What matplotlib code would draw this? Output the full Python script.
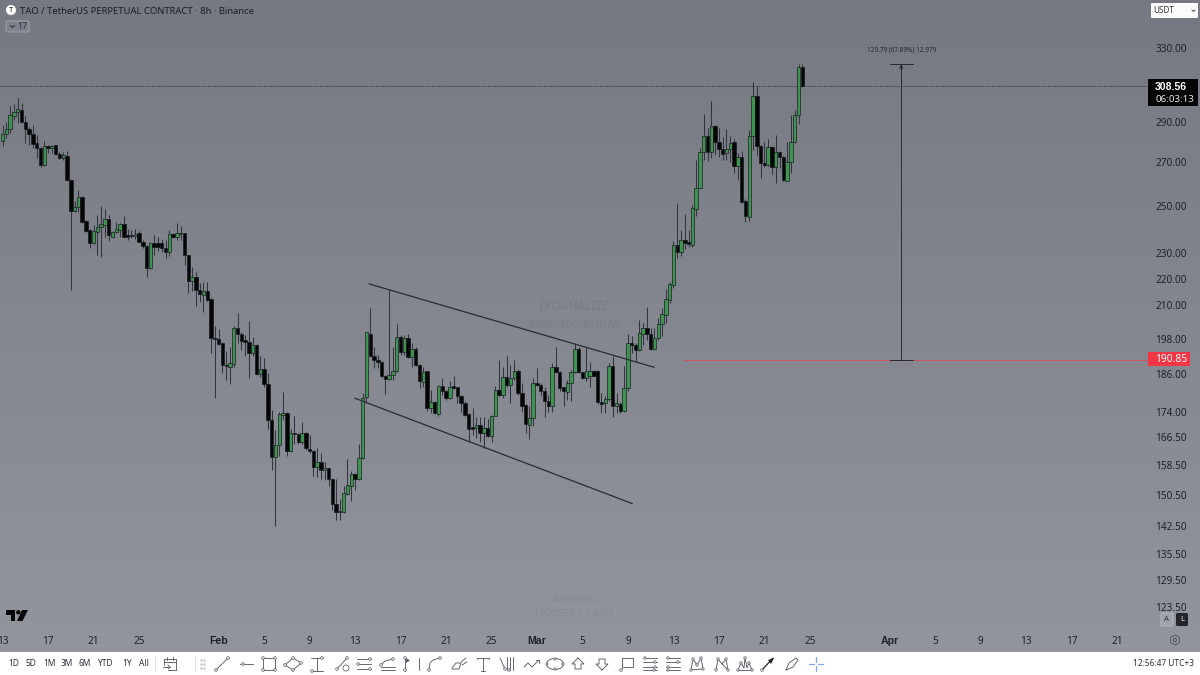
import numpy as np
import matplotlib
matplotlib.use("Agg")
import matplotlib.pyplot as plt
from matplotlib.patches import Rectangle, FancyBboxPatch, Circle, Ellipse, Polygon

plt.rcParams['font.family'] = ['Noto Sans', 'DejaVu Sans']

# ---- DATA (8h candles, first candle = Jan 13) ----
opens = [280.4,283.6,286,293,295,296,290,286,283.6,279.1,277,268.7,277.7,277,278.2,274,271.9,273,261.7,247.8,
 249.5,253.9,243.4,239.7,234.2,239,240.8,241.8,244.4,236.9,238.9,239.7,242,237.6,237.5,237.2,238.6,234.7,233,224.2,
 234.2,234.2,234.2,232.4,230.5,238,236.6,238,238.3,229.2,219.2,220.8,215.7,213.8,215.3,212.2,198.3,197.9,196.5,189.1,
 188.5,189.3,201.7,199.5,197.6,197,193.2,195.8,186.1,187.6,182.9,171.7,160.7,164.2,173.1,173.8,162.4,167.8,167.6,165,
 167.8,163.2,162.6,158,159.3,157.3,157.7,154.6,148.2,146.1,146,150.7,152.9,156,154.6,160.5,178.7,199.6,192,190.7,
 190.2,185.5,184.5,185.8,186.9,198.7,193.5,198.1,191.6,194.3,189,183.4,186.9,175.4,177.1,173.5,182.3,180.5,178.4,182.1,
 181.8,178.9,176.8,173.5,169.4,169.1,170.1,167.7,169.2,167,172.9,180.9,179.4,185,182.4,184.7,186.9,179.9,176.3,170.2,
 172.1,183.1,182.6,180.7,177.3,175.8,188.5,186.6,181.8,180.3,183.1,186.6,194.3,186.6,184.9,185.5,187.2,187.2,177,176.8,
 178.1,188.7,175.8,176.6,174.3,181.5,196.5,195.7,194,199.8,201.6,199.8,194.5,198.1,203.1,206.5,212,217.4,233.5,230.5,
 235.5,234.5,233.5,248.8,258.1,275,282.6,275,287.7,279.9,276.3,274.2,276.1,279.6,268.2,272.6,252.2,245.4,282.6,303.3,
 278,269.4,268.7,277.4,267.9,275,272.3,261.4,270.2,279.6,293.4,318.9]
highs = [288.3,290,298,299,302,299.4,292.8,287.3,288.3,283.2,277.5,280,278.3,278.3,278.3,275,275.1,275.4,262,252,
 257,254.2,244,240,241.8,246.1,249.8,248.6,246.1,239.4,243.2,242.5,245.7,240,239.7,240,239.4,235.6,233.5,234.5,
 237.6,236.9,235.8,235.6,239.7,238.3,242.5,241.3,238.6,229.5,224.5,222.8,218.3,218.6,218.7,212.5,202.5,201.3,196.7,193.6,
 195,202.5,207,200.2,199.3,204.3,198.5,196.2,192.1,191.3,186.5,174.6,168.5,174,180.3,174,169,172.7,167.8,170.9,
 168,167.2,162.9,163.4,161.9,159.3,157.8,155,154.6,149.4,152.7,160.3,156.9,156.4,164.6,180,200.5,208.9,195.2,192.4,
 190.4,185.8,215.7,195.2,203.2,199.2,199.2,199.8,196.4,195.2,189.3,188.3,187.1,181,177.6,182.5,184.9,180.8,183.7,185.3,
 182,179.4,177.3,173.7,175.2,172.5,172.5,172.5,171.9,173.2,182.3,190.7,188.5,192,189,190.7,187.7,183,176.5,175.8,
 184.7,188,183.1,182,179.4,189.6,195.2,186.9,182,184.2,187.4,196.4,195.2,186.8,194.9,190.2,187.4,187.4,179.9,178.9,
 189.6,192,179.9,177,188.7,199.8,198.8,196.5,204.5,203.5,209.5,201.7,201.7,205.3,208.9,216,218.9,234.9,251.2,239.7,
 246.5,239.7,250.4,271,276.6,293.7,286.5,300.9,288.2,286.5,282.3,286,282.6,281.3,274.2,275.5,253.3,285.7,311,308.7,
 278.3,279.9,281.1,277.8,283.2,275.5,272.9,279.9,293.4,295.7,320.6,320.6]
lows = [277.8,281.6,284,290.8,289.4,289.4,279.5,278.3,276.7,271.9,267.6,268.2,274.6,274.3,273.5,271.4,270.8,261.4,215.5,247.5,
 247.5,242.8,239,232.1,233.9,229.4,228.5,236.9,235,236.2,238.3,236.9,236.2,235.5,236.2,235.8,234.5,232.1,220.6,223.8,
 229.4,230.8,230.4,228.1,229,236.2,235.6,235.3,225.4,214.5,215.3,209.7,211,207.4,211.7,193,178.4,195.7,186.3,184.2,
 182.8,188.5,196.5,194,191.9,184.7,191.9,185.8,185.2,182,169,157.1,142.4,161,171.7,161,162.2,164.6,164.6,164.6,
 162.7,162,155.5,155.3,154.6,154.4,152.7,146.5,144,143.9,145.8,150.5,148.8,151.8,154.4,160.2,176.8,191.6,188,188,
 184.7,179.7,184.2,184.2,186.6,192.4,192.4,191.3,188.3,188.7,181.5,182,174.5,173.7,173.4,172.9,179.4,177.9,178.1,181.3,
 176.8,174.2,172.7,165.1,167.2,166.2,165,163.5,166.7,165.2,172.7,178.9,178.4,182,176.8,184.2,179.4,174.2,167.7,165.9,
 169.7,182.3,178.9,172.5,174.2,174.2,186.4,180.5,175.9,177.9,177.6,186.4,186.4,184.5,183.7,182,185.3,176.6,173.9,173.9,
 177.6,172.5,173.7,173.9,174.1,180.7,193.1,190.3,193.6,195.9,197.6,194.2,194.2,197.6,198.8,203.5,210.8,216.4,228,228.8,
 231.7,232.8,232.8,245.8,257.8,271,270.7,271.8,273.4,272.3,271,271,270.2,264.8,261.7,251.5,243.1,243.6,275.8,273.4,
 262.4,267.9,268.2,264.5,260.1,267.1,261.4,261.4,264.8,279.1,288.7,307.9]
closes = [283.7,286.2,293.4,295,296.3,290,286,283.6,279,276.9,268.7,277.8,277,278,274,271.9,273.2,261.7,247.8,249.5,
 253.9,243.2,239.4,234.2,239.4,240.8,242,244.4,237.4,238.9,240.1,242,236.6,236.6,237.2,238,234.7,233,224.2,234.2,
 232.8,232.8,232.1,230.4,238,236.9,238.3,238.6,229.2,219.3,220.8,215.7,214,215.2,212,198.2,197.8,196.2,189.1,188.7,
 189.7,201.7,199.5,197.2,197,193.2,195.7,186.1,187.6,182.8,171.7,160.7,164.2,173.3,173.8,162.6,167.8,167.4,165,167.8,
 163.4,162.4,158,159.3,157.3,157.7,154.6,148.2,146.1,146.3,150.9,153.1,156.1,154.6,160.5,178.4,200.2,192,190.7,190.2,
 185.3,184.6,185.8,187,198.7,193.5,198.1,191.6,194.3,189,183.7,186.7,175.4,177.1,173.7,182.3,180.5,178.4,182,181.7,
 178.9,176.8,173.2,169,169,170.1,167.7,169.2,166.9,172.9,180.9,179.4,185,182.6,184.7,187.1,179.9,175.9,170.4,172.1,
 183.1,182.6,180.7,177.3,175.8,188.5,186.6,181.7,180.5,183.1,186.6,194.3,186.6,184.9,187.2,187.2,185.5,177,176.6,178.1,
 188.7,175.8,176.8,174.3,181.7,196.4,195.7,194.2,199.9,201.6,199.8,194.5,198.2,203.1,206.8,212.3,217.9,233.5,230.5,235.5,
 234.4,233.7,249,258.1,275,282.6,275,287.7,279.9,276.3,273.8,276.1,279.4,268.2,272.6,251.9,245.7,282.6,303.3,277.8,
 269.4,268.5,277.1,267.9,275,272.3,261.7,270.2,279.6,293.4,318.9,308.56]

price_ticks = [330,290,270,250,230,220,210,198,186,174,166.5,158.5,150.5,142.5,135.5,129.5,123.5]
date_labels = ['13','17','21','25','Feb','5','9','13','17','21','25','Mar','5','9','13','17','21','25','Apr','5','9','13','17','21']
date_days = [0,4,8,12,19,23,27,31,35,39,43,47,51,55,59,63,67,71,78,82,86,90,94,98]
candles_per_day = 3
last_price = 308.56
level_price = 190.85
upper_channel = ([96.7, 171.9], [218.0, 188.3])
lower_channel = ([93.0, 166.1], [178.3, 148.2])
measure_idx = 237.1
measure_top = 320.64
toolbar_ranges = ['1D','5D','1M','3M','6M','YTD','1Y','All']

W, H = 1200, 675
PANE_R, PANE_B = 1147, 627
fig = plt.figure(figsize=(12, 6.75), dpi=100)

# background gradient
bg = fig.add_axes([0, 0, 1, 1], zorder=0)
bg.axis('off')
grad = np.linspace(0, 1, 256)[:, None, None]
top_c = np.array([118, 120, 130]) / 255
bot_c = np.array([148, 150, 159]) / 255
bg.imshow(top_c + (bot_c - top_c) * grad, aspect='auto', extent=[0, W, H, 0])

# main chart
ax = fig.add_axes([0, 1 - PANE_B / H, PANE_R / W, PANE_B / H], zorder=1)
ax.patch.set_alpha(0)
ax.set_yscale('log')
idx = np.arange(len(closes))
o, h, l, c = map(np.array, (opens, highs, lows, closes))
up = c >= o
ax.vlines(idx, l, h, color='#33353c', lw=0.75, zorder=2)
ax.bar(idx, np.abs(c - o), bottom=np.minimum(o, c), width=0.9,
       color=np.where(up, '#3f9350', '#050505'), edgecolor='#12161a', linewidth=0.45, zorder=3)
ax.set_xlim(-2.6 / 3.79, (PANE_R - 2.6) / 3.79)
ax.set_ylim(330 * np.exp(-(PANE_B - 48) / 569), 330 * np.exp(48 / 569))

ax.plot(*upper_channel, color='#2a2c33', lw=0.9, zorder=4)
ax.plot(*lower_channel, color='#2a2c33', lw=0.9, zorder=4)
ax.axhline(last_price, color='#2a2c33', lw=0.7, ls=(0, (1, 1.4)), zorder=1)
ax.plot([179.8, (PANE_R - 2.6) / 3.79], [level_price] * 2, color='#d2525d', lw=0.7, zorder=1)
ax.plot([measure_idx] * 2, [level_price, measure_top], color='#24262c', lw=0.65, zorder=4)
for p in (level_price, measure_top):
    ax.plot([measure_idx - 3, measure_idx + 3], [p, p], color='#24262c', lw=0.65, zorder=4)
ax.annotate('', xy=(measure_idx, measure_top), xytext=(measure_idx, measure_top * 0.988),
            arrowprops=dict(arrowstyle='->', color='#24262c', lw=0.6, shrinkA=0, shrinkB=0,
                            mutation_scale=6), zorder=4)
ax.text(measure_idx, measure_top * 1.026, '129.79 (67.89%) 12,979', ha='center', va='center',
        fontsize=4.6, color='#24262c')

ax.yaxis.tick_right()
ax.set_yticks(price_ticks)
ax.set_yticklabels([f'{p:.2f}' for p in price_ticks])
ax.minorticks_off()
ax.set_xticks([d * candles_per_day for d in date_days])
ax.set_xticklabels(date_labels)
ax.tick_params(axis='y', length=0, pad=6, labelsize=7.2, colors='#1e222d')
ax.tick_params(axis='x', length=0, pad=6.5, labelsize=7.2, colors='#1e222d')
for t in ax.get_xticklabels():
    if t.get_text() in ('Feb', 'Mar', 'Apr'):
        t.set_family('Liberation Sans')
        t.set_fontweight('bold')
        t.set_fontsize(7.6)
for s in ax.spines.values():
    s.set_visible(False)

# chrome overlay in pixels
ui = fig.add_axes([0, 0, 1, 1], zorder=2)
ui.set_xlim(0, W)
ui.set_ylim(H, 0)
ui.axis('off')
ui.patch.set_alpha(0)

INK = '#1c1e26'
ui.add_patch(Circle((11, 10), 5, fc='white', ec='none'))
ui.text(11, 10.3, 'T', fontsize=5.5, fontweight='bold', ha='center', va='center', color='#111')
ui.text(19.5, 11, 'TAO / TetherUS PERPETUAL CONTRACT · 8h · Binance', fontsize=6.8, va='center', color=INK)
ui.add_patch(FancyBboxPatch((6, 21), 23, 11, boxstyle='round,pad=0,rounding_size=1.5',
                            fc='#7f818c', ec='#9a9ca6', lw=0.8))
ui.plot([10.5, 12.5, 14.5], [25.5, 27.5, 25.5], color='#2a2c33', lw=0.7)
ui.text(22.5, 26.8, '17', fontsize=6.3, ha='center', va='center', color='#2a2c33')

# USDT
ui.add_patch(FancyBboxPatch((1151, 3), 47, 15, boxstyle='round,pad=0,rounding_size=1',
                            fc='#fbfbfc', ec='none'))
ui.text(1153.5, 10.8, 'USDT', fontsize=5.8, va='center', color='#30333b')
ui.plot([1192, 1193.5, 1195], [10, 11.5, 10], color='#30333b', lw=0.6)

# price labels
ui.add_patch(Rectangle((1148, 79), 50, 27, fc='#050505', ec='none'))
ui.text(1155, 87, f'{last_price:.2f}', fontsize=7.6, va='center', color='white',
        family='Liberation Sans', fontweight='bold')
ui.text(1155, 99.5, '06:03:13', fontsize=7.0, va='center', color='#e8e8e8')
ui.add_patch(Rectangle((1148, 352), 42, 14, fc='#f23645', ec='none'))
ui.text(1155, 359.8, f'{level_price:.2f}', fontsize=7.4, va='center', color='white')

# A / L buttons, gear
ui.add_patch(FancyBboxPatch((1161, 613), 12, 13, boxstyle='round,pad=0,rounding_size=1.5',
                            fc='#9fa2ab', ec='#b5b7bf', lw=0.8))
ui.text(1167, 619.7, 'A', fontsize=5.6, ha='center', va='center', color='#30333b')
ui.add_patch(FancyBboxPatch((1176, 613), 12, 13, boxstyle='round,pad=0,rounding_size=1.5',
                            fc='#23252b', ec='none'))
ui.text(1182, 619.7, 'L', fontsize=5.6, ha='center', va='center', color='#eee')
hexa = [(1175 + 5 * np.cos(a), 640 + 5 * np.sin(a)) for a in np.arange(6) * np.pi / 3 + np.pi / 6]
ui.add_patch(Polygon(hexa, closed=True, fc='none', ec='#4a4d55', lw=0.6))
ui.add_patch(Circle((1175, 640), 1.6, fc='none', ec='#4a4d55', lw=0.6))

# TradingView logo
ui.add_patch(Polygon([(6, 610), (15, 610), (15, 621), (11, 621), (11, 614.5), (6, 614.5)], fc='#050505', ec='none'))
ui.add_patch(Circle((18.3, 612.3), 2.2, fc='#050505', ec='none'))
ui.add_patch(Polygon([(22, 610), (28, 610), (22.5, 621), (17, 621)], fc='#050505', ec='none'))

# watermarks
wm = dict(color='black', alpha=0.07, ha='center', va='center')
ui.text(574, 307, 'EKOANALIZZ', fontsize=8.5, fontweight='bold', **wm)
ui.text(574, 325, 'SHINSUKEKUSUTIYAN', fontsize=6.5, **wm)
ui.text(574, 600, '24/3/2026', fontsize=6.5, **wm)
ui.text(574, 614, 'TAOUSDT.P 1.480K', fontsize=6.5, **wm)

# toolbar
TB_Y = 664
ui.add_patch(Rectangle((0, 651.5), W, H - 651.5, fc='white', ec='none'))
for lab, x in zip(toolbar_ranges, [14, 31, 49, 67, 85, 106, 127, 144]):
    ui.text(x, TB_Y, lab, fontsize=6.0, ha='center', va='center', color='#2a2e39')
ui.plot([155, 155], [656, 671], color='#e6e7ea', lw=0.7)
ui.plot([195, 195], [656, 671], color='#e6e7ea', lw=0.7)
for dx in (201, 204):
    for dy in (660, 664, 668):
        ui.plot(dx, dy, 's', ms=0.8, color='#c9cbd0')
ui.text(1194, 664, '12:56:47 UTC+3', fontsize=6.0, ha='right', va='center', color='#2a2e39')

IC = '#5a5d66'
def pl(cx, pts, closed=False, color=IC, lw=0.65):
    xs = [cx + p[0] for p in pts]
    ys = [TB_Y + p[1] for p in pts]
    if closed:
        xs.append(xs[0]); ys.append(ys[0])
    ui.plot(xs, ys, color=color, lw=lw, solid_capstyle='round', solid_joinstyle='round')
def an(cx, pts, r=1.3):
    for p in pts:
        ui.add_patch(Circle((cx + p[0], TB_Y + p[1]), r, fc='white', ec=IC, lw=0.55, zorder=5))

# calendar
pl(170, [(-6, -5), (6, -5), (6, 6), (-2, 6)]); pl(170, [(-6, -5), (-6, 1)]); pl(170, [(-6, -2), (6, -2)])
pl(170, [(-3, -7), (-3, -4)]); pl(170, [(3, -7), (3, -4)]); pl(170, [(-7, 3), (0, 3)]); pl(170, [(-2, 1), (0, 3), (-2, 5)])
# line
pl(222, [(-5, 5), (5, -5)]); an(222, [(-6, 6), (6, -6)])
# horizontal ray
pl(246, [(-6, 0), (7, 0)]); an(246, [(-3, 0)])
# rectangle
pl(269, [(-6, -6), (6, -6), (6, 6), (-6, 6)], True); an(269, [(-6, -6), (6, -6), (6, 6), (-6, 6)])
# rotated rectangle
pl(293, [(-8, 1), (0, -6), (8, -1), (0, 6)], True); an(293, [(-8, 1), (0, -6), (8, -1), (0, 6)])
# measure
pl(317, [(-6, -6), (6, -6)]); pl(317, [(-6, 7), (6, 7)]); pl(317, [(0, -6), (0, 7)]); an(317, [(5, -6), (-5, 7)])
# line + circle
pl(343, [(-6, 5), (4, -6)]); an(343, [(-6, 5), (4, -6)]); an(343, [(3, 4)], r=3)
# parallel lines
for dy, ax_ in ((-5, 6), (0, -6), (5, 6)):
    pl(364, [(-7, dy), (7, dy)]); an(364, [(ax_, dy)])
# curved channel
pl(388, [(-7, 1), (-3, -3), (5, -5)]); pl(388, [(-7, 3), (7, 3)]); pl(388, [(-7, 6), (7, 6)]); an(388, [(-7, 1), (5, -5)])
# flag
pl(406, [(-1, 7), (-1, -6)]); ui.add_patch(Polygon([(406, 658), (410, 660.5), (406, 663)], fc=IC, ec='none')); an(406, [(-1, 6), (-1, -6)])
# pitchfork tool
pl(420, [(-1, -6), (-1, 6)])
# arc
pl(435, [(-6, 6), (-5, -1), (-2, -4), (5, -6)]); an(435, [(-6, 6), (5, -6)])
# brush
pl(459, [(-7, 4), (-3, -1), (2, -1), (0, 5), (-7, 5)]); pl(459, [(2, -2), (7, -6)]); pl(459, [(3, 1), (8, -2)])
# T
pl(483, [(-6, -5), (-6, -6), (6, -6), (6, -5)]); pl(483, [(0, -6), (0, 7)]); pl(483, [(-2, 7), (2, 7)])
# pitchfork lines
pl(507, [(-7, -6), (-2, 5)]); pl(507, [(0, 6), (0, -7)]); pl(507, [(3, 6), (3, -7)]); pl(507, [(6, 6), (6, -7)]); an(507, [(-2, 5), (2, 6)])
# zigzag
pl(532, [(-8, 3), (-4, -1), (0, 3), (7, -4)]); pl(532, [(4, -4), (7, -4), (7, -1)])
# ellipse
ui.add_patch(Ellipse((555, TB_Y), 17, 11, fc='none', ec=IC, lw=0.65)); an(555, [(-8, 0), (8, 0), (0, -5), (0, 5)], r=1.1)
# arrows
pl(578, [(0, -6), (6, 0), (3, 0), (3, 5), (-3, 5), (-3, 0), (-6, 0)], True)
pl(602, [(0, 6), (6, 0), (3, 0), (3, -5), (-3, -5), (-3, 0), (-6, 0)], True)
# callout
pl(627, [(-5, 4), (-5, -6), (6, -6), (6, 3), (-4, 3)]); an(627, [(-6, 6)])
# position tools
for cx, a_, b_ in ((650, 5, 4), (673, -5, -5)):
    for dy, sx in ((-6, -1), (-2, 1), (3, 1), (6, -1)):
        pl(cx, [(-7, dy), (7, dy)])
    an(cx, [(-5, -6), (5, -2), (a_, 3), (b_, 6)], r=1.2)
# harmonic patterns
pl(697, [(-6, 6), (-4, -5), (0, 1), (4, -6), (6, 5), (-6, 6)]); an(697, [(-6, 6), (-4, -5), (4, -6), (6, 5), (0, 1)], r=1.2)
pl(722, [(-6, 6), (-4, -5), (0, 0), (4, -5), (6, 6), (0, 0)]); an(722, [(-6, 6), (-4, -5), (4, -5), (6, 6)], r=1.2)
pl(745, [(-7, 6), (-4, -1), (-1, 4), (0, -6), (2, 4), (4, -1), (7, 6)]); pl(745, [(-7, 6), (7, 6)]); an(745, [(-7, 6), (-4, -1), (0, -6), (4, -1), (7, 6)], r=1.2)
# arrow tool
pl(768, [(-6, 6), (5, -6)], color='#222', lw=0.9); an(768, [(-6, 6)]); ui.add_patch(Polygon([(774, 658), (768, 660), (771, 664)], fc='#222', ec='none'))
# pencil
pl(792, [(-6, 6), (-3, -1), (4, -6), (6, -4), (1, 3)], True)
# crosshair
BL = '#7da6e6'
for seg in ([(-7, 0), (-2, 0)], [(2, 0), (7, 0)], [(0, -7), (0, -2)], [(0, 2), (0, 7)]):
    pl(816, seg, color=BL, lw=0.9)

fig.savefig('out.png', dpi=100)
